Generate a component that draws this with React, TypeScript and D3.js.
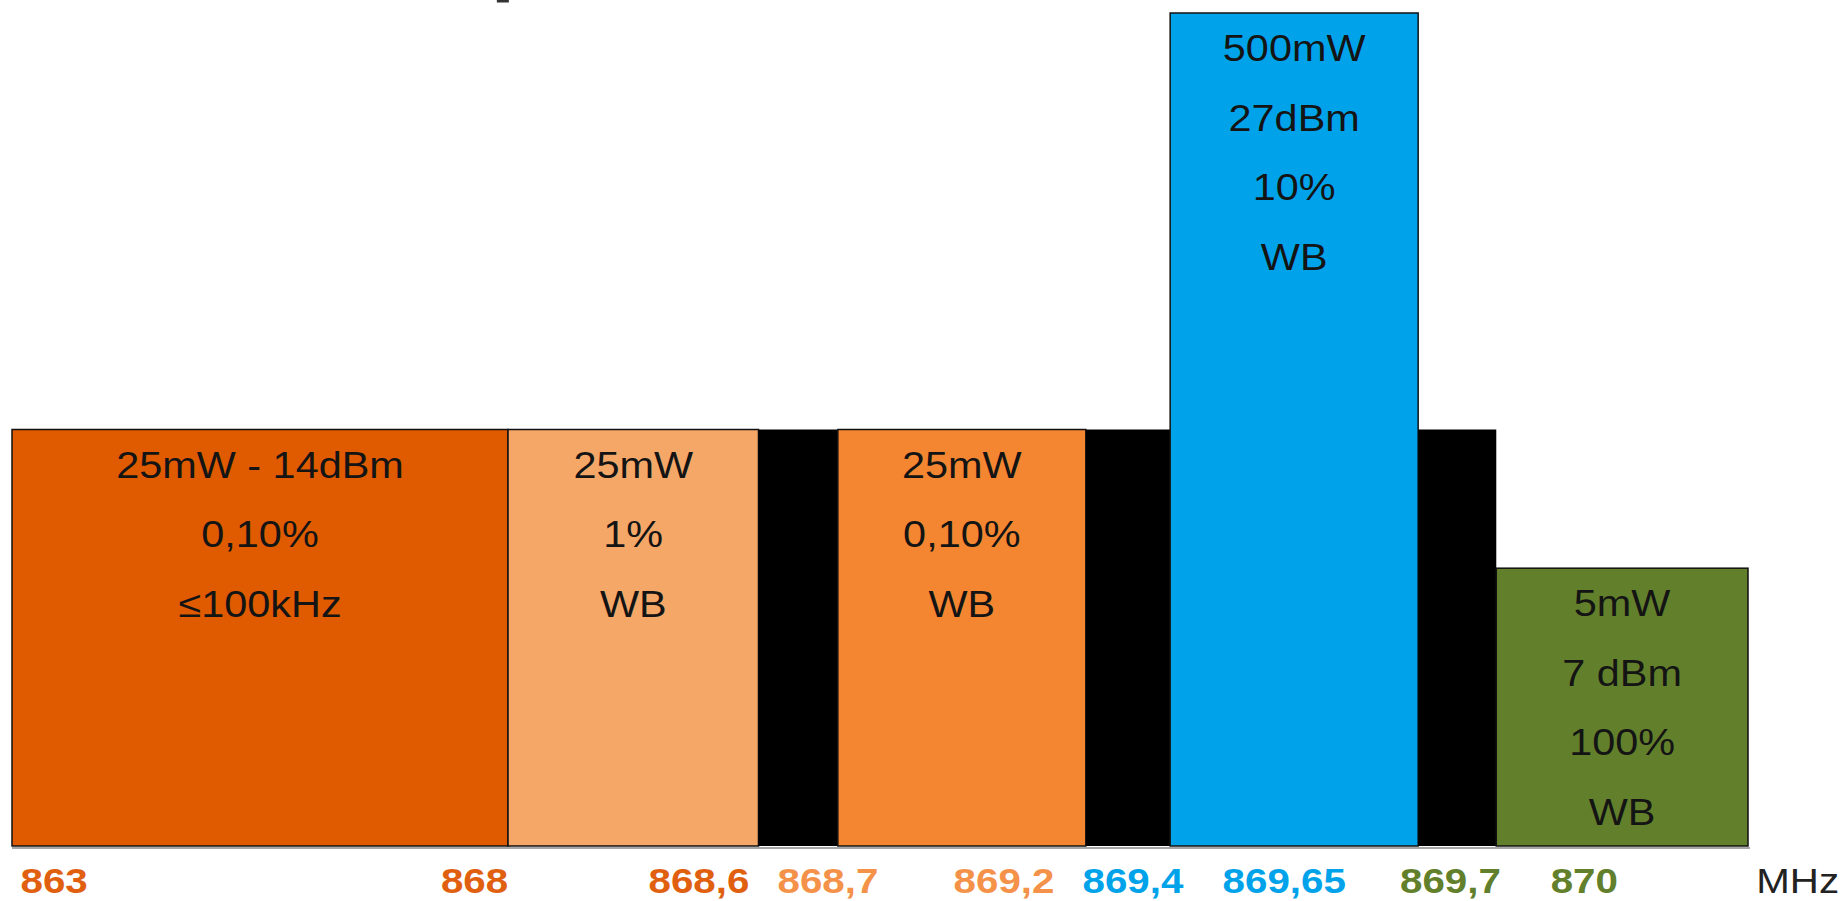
import React from "react";
import * as d3 from "d3";

// Schematic frequency plan (x in schematic band units, y in relative power level)
const segStarts = [0, 2, 3.01, 3.33, 4.33, 4.67, 5.67, 5.985];
const segEnds = [2, 3.01, 3.33, 4.33, 4.67, 5.67, 5.985, 7];
const segLevels = [1, 1, 1, 1, 1, 2, 1, 0.667];
const segColors = ["#E05A00", "#F5A768", "#000000", "#F48631", "#000000", "#00A3EA", "#000000", "#62802B"];
const segTexts: string[][] = [
  ["25mW - 14dBm", "0,10%", "≤100kHz"],
  ["25mW", "1%", "WB"],
  [],
  ["25mW", "0,10%", "WB"],
  [],
  ["500mW", "27dBm", "10%", "WB"],
  [],
  ["5mW", "7 dBm", "100%", "WB"],
];

const tickLabels = ["863", "868", "868,6", "868,7", "869,2", "869,4", "869,65", "869,7", "870", "MHz"];
const tickPositions = [0.17, 1.865, 2.77, 3.29, 4.0, 4.52, 5.13, 5.8, 6.34, 7.2];
const tickColors = ["#E06010", "#E06010", "#E06010", "#F5924A", "#F5924A", "#00A3EA", "#00A3EA", "#62802B", "#62802B", "#222222"];
const tickBold = [true, true, true, true, true, true, true, true, true, false];

const W = 1843;
const H = 901;
const FONT = "'Liberation Sans', Arial, Helvetica, sans-serif";
const STRETCH = 1.12;

export default function App() {
  const x = d3.scaleLinear().domain([0, 7]).range([12, 1748]);
  const y = d3.scaleLinear().domain([0, 2]).range([846, 13]);
  const base = y(0);

  return (
    <svg
      width={W}
      height={H}
      style={{ position: "absolute", left: 0, top: 0, display: "block", background: "#fff" }}
    >
      {/* small mark at the top */}
      <rect x={x(1.955)} y={0} width={12} height={2.5} fill="#333" />

      {/* segments */}
      {segStarts.map((s, i) => {
        const x0 = x(s);
        const x1 = x(segEnds[i]);
        const yt = y(segLevels[i]);
        const isGap = segColors[i] === "#000000";
        return (
          <rect
            key={"seg" + i}
            x={x0}
            y={yt}
            width={x1 - x0}
            height={base - yt}
            fill={segColors[i]}
            stroke={isGap ? "none" : "#111"}
            strokeWidth={1.5}
          />
        );
      })}

      {/* texts inside segments */}
      {segStarts.map((s, i) => {
        const cx = (x(s) + x(segEnds[i])) / 2;
        const yt = y(segLevels[i]);
        return segTexts[i].map((t, j) => (
          <text
            key={"t" + i + "-" + j}
            transform={`translate(${cx},${yt + 48 + j * 69.5}) scale(${STRETCH},1)`}
            textAnchor="middle"
            fontFamily={FONT}
            fontSize={37}
            fill="#141414"
          >
            {t}
          </text>
        ));
      })}

      {/* baseline */}
      <line x1={x(0)} x2={x(7) + 2} y1={base + 2} y2={base + 2} stroke="#8a8a8a" strokeWidth={1.5} />

      {/* tick labels */}
      {tickLabels.map((lab, i) => (
        <text
          key={"tick" + i}
          transform={`translate(${x(tickPositions[i])},893) scale(${STRETCH},1)`}
          textAnchor="middle"
          fontFamily={FONT}
          fontSize={36}
          fontWeight={tickBold[i] ? 700 : 400}
          fill={tickColors[i]}
        >
          {lab}
        </text>
      ))}
    </svg>
  );
}
